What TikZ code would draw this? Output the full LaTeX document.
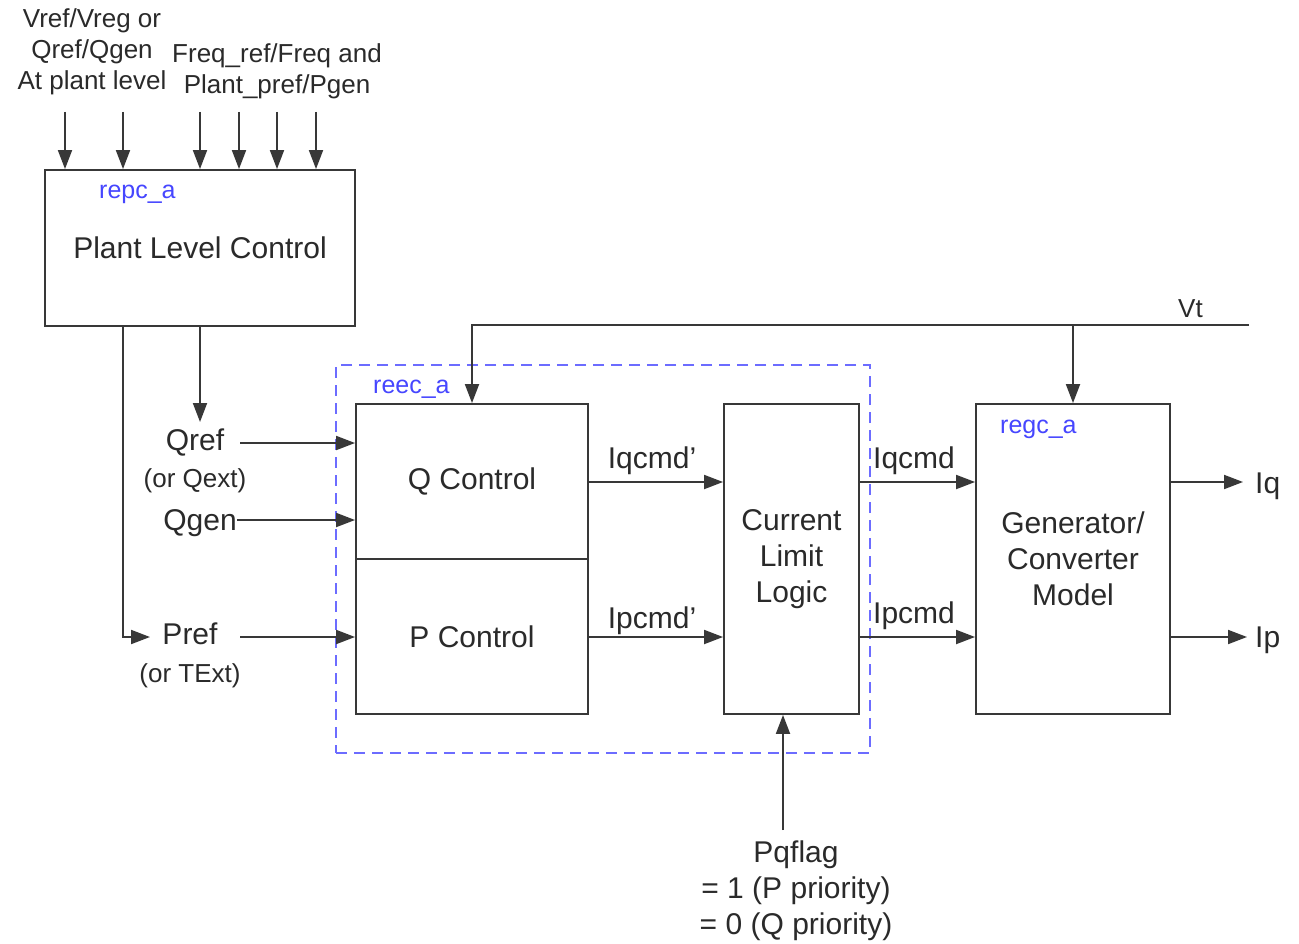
\documentclass[tikz,border=0pt]{standalone}
\usepackage{fontspec}
\setmainfont{Liberation Sans}
\usetikzlibrary{arrows.meta,calc}
\definecolor{txt}{HTML}{2A2A2A}
\definecolor{ln}{HTML}{383838}
\definecolor{blu}{HTML}{4646FF}
\definecolor{dblu}{HTML}{6C6CFF}
\begin{document}
\begin{tikzpicture}[x=1pt,y=-1pt,
  box/.style={draw=ln, line width=1.9pt, inner sep=0pt, text=txt, align=center,
              font=\fontsize{30}{36}\selectfont},
  dashbox/.style={draw=dblu, line width=1.8pt, dash pattern=on 11pt off 7pt, inner sep=0pt},
  lbl/.style={text=txt, inner sep=0pt, align=center, font=\fontsize{30}{36}\selectfont},
  sml/.style={text=txt, inner sep=0pt, align=center, font=\fontsize{26}{31}\selectfont},
  tag/.style={text=blu, inner sep=0pt, font=\fontsize{25}{30}\selectfont},
  wire/.style={draw=ln, line width=1.9pt},
  arr/.style={draw=ln, line width=1.9pt, -{Triangle[length=19pt,width=14pt]}}]
\fill[white] (0,0) rectangle (1299,944);
\useasboundingbox (0,0) rectangle (1299,944);

% dashed reec_a frame
\node[dashbox, minimum width=534pt, minimum height=388pt] (reec) at (603,559) {};

% blocks
\node[box, minimum width=310pt, minimum height=156pt] (plant) at (200,248) {Plant Level Control};
\node[box, minimum width=232pt, minimum height=155pt] (qc) at (472,481.5) {Q Control};
\node[box, minimum width=232pt, minimum height=155pt] (pc) at (472,636.5) {P Control};
\node[box, minimum width=135pt, minimum height=310pt] (cll) at (791.5,559) {Current\\Limit\\Logic};
\node[box, minimum width=194pt, minimum height=310pt] (gen) at (1073,559) {Generator/\\Converter\\Model};

% blue tags
\node[tag, anchor=base west] (repc) at (99,199) {repc\textunderscore a};
\node[tag, anchor=base west] (reect) at (373,393) {reec\textunderscore a};
\node[tag, anchor=base west] (regc) at (1000,433) {regc\textunderscore a};

% top labels
\node[sml, anchor=north] (vin) at (92,8) {Vref/Vreg or\\Qref/Qgen\\At plant level};
\node[sml, anchor=north] (fin) at (277,43) {Freq\textunderscore ref/Freq and\\Plant\textunderscore pref/Pgen};

% left labels
\node[lbl, anchor=base] (qref) at (195,450) {Qref};
\node[sml, anchor=base] (qext) at (195,487) {(or Qext)};
\node[lbl, anchor=base] (qgen) at (200,530) {Qgen};
\node[lbl, anchor=base] (pref) at (190,644) {Pref};
\node[sml, anchor=base] (pext) at (190,682) {(or TExt)};

% signal labels
\node[lbl, anchor=base] (iqcmdp) at (652,468) {Iqcmd'};
\node[lbl, anchor=base] (ipcmdp) at (652,628) {Ipcmd'};
\node[lbl, anchor=base west] (iqcmd) at (873,468) {Iqcmd};
\node[lbl, anchor=base west] (ipcmd) at (873,623) {Ipcmd};
\node[lbl, anchor=base west] (iq) at (1255,493) {Iq};
\node[lbl, anchor=base west] (ip) at (1255,647) {Ip};
\node[sml, anchor=base west] (vt) at (1178,317) {Vt};
\node[lbl, anchor=north] (pq) at (796,841) {Pqflag\\= 1 (P priority)\\= 0 (Q priority)};

% coordinates
\coordinate (yq) at (0,482);
\coordinate (yp) at (0,637);
\coordinate (vtl) at (472,325);
\coordinate (vtr) at (1249,325);
\coordinate (qrefo) at (240,443);
\coordinate (qgeno) at (237,520);
\coordinate (prefo) at (240,637);
\coordinate (preftip) at (150,637);
\coordinate (qreftip) at (200,422);
\coordinate (pqo) at (783,830);

% top inputs
\foreach \x [count=\i] in {65,123,200,239,277,316}{
  \coordinate (in\i) at (\x,112);
  \draw[arr] (in\i) -- (in\i |- plant.north);
}

% plant outputs
\draw[arr] (plant.south -| 123,0) |- (preftip);
\draw[arr] (plant.south -| qreftip) -- (qreftip);

% inputs to Q/P control
\draw[arr] (qrefo) -- (qrefo -| qc.west);
\draw[arr] (qgeno) -- (qgeno -| qc.west);
\draw[arr] (prefo) -- (prefo -| pc.west);

% Vt feeds
\draw[arr] (vtr) -- (vtl) -- (qc.north);
\draw[arr] (gen.north |- vtl) -- (gen.north);

% command signals
\draw[arr] (qc.east |- yq) -- (cll.west |- yq);
\draw[arr] (pc.east |- yp) -- (cll.west |- yp);
\draw[arr] (cll.east |- yq) -- (gen.west |- yq);
\draw[arr] (cll.east |- yp) -- (gen.west |- yp);
\draw[arr] (gen.east |- yq) -- ([xshift=-12pt]iq.west |- yq);
\draw[arr] (gen.east |- yp) -- ([xshift=-8pt]ip.west |- yp);

% Pqflag
\draw[arr] (pqo) -- (pqo |- cll.south);
\end{tikzpicture}
\end{document}
